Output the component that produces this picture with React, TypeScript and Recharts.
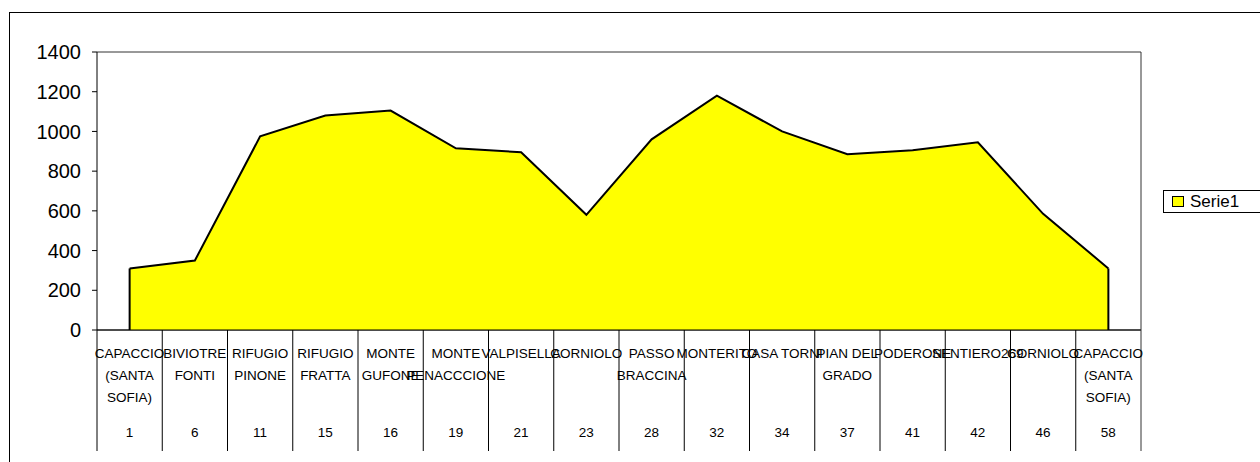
import React from "react";
import {
  AreaChart,
  Area,
  XAxis,
  YAxis,
  CartesianGrid,
  Legend,
  ReferenceLine,
} from "recharts";

// ---- data ----
const stops: string[] = [
  "CAPACCIO (SANTA SOFIA)",
  "BIVIOTRE FONTI",
  "RIFUGIO PINONE",
  "RIFUGIO FRATTA",
  "MONTE GUFONE",
  "MONTE PENACCCIONE",
  "VALPISELLA",
  "CORNIOLO",
  "PASSO BRACCINA",
  "MONTERITO",
  "CASA TORNI",
  "PIAN DEL GRADO",
  "PODERONE",
  "SENTIERO269",
  "CORNIOLO",
  "CAPACCIO (SANTA SOFIA)",
];
const km: number[] = [1, 6, 11, 15, 16, 19, 21, 23, 28, 32, 34, 37, 41, 42, 46, 58];
const elevation: number[] = [310, 350, 975, 1080, 1105, 915, 895, 580, 960, 1180, 1000, 885, 905, 945, 585, 310];
const yTicks: number[] = [0, 200, 400, 600, 800, 1000, 1200, 1400];
const seriesName = "Serie1";

const data = km.map((k, i) => ({ km: k, name: stops[i], value: elevation[i] }));

// ---- layout ----
const W = 1260;
const H = 462;
const PLOT_LEFT = 97;
const PLOT_RIGHT = 1141;
const PLOT_TOP = 52;
const PLOT_BOTTOM = 330;
const N = km.length;
const BAND = (PLOT_RIGHT - PLOT_LEFT) / N;
const FONT = '"Liberation Sans", Arial, sans-serif';
const CAT_FONT_SIZE = 13.5;

function wrapLabel(label: string, maxWidth: number): string[] {
  let measure = (s: string) => s.length * CAT_FONT_SIZE * 0.6;
  try {
    const c = document.createElement("canvas").getContext("2d");
    if (c) {
      c.font = `${CAT_FONT_SIZE}px ${FONT}`;
      measure = (s: string) => c.measureText(s).width;
    }
  } catch (e) {}
  const words = label.split(" ");
  const lines: string[] = [];
  let cur = "";
  for (const w of words) {
    const cand = cur ? cur + " " + w : w;
    if (cur && measure(cand) > maxWidth) {
      lines.push(cur);
      cur = w;
    } else {
      cur = cand;
    }
  }
  if (cur) lines.push(cur);
  return lines;
}

const wrapped = stops.map((s) => wrapLabel(s, 90));

const XTick = (props: any) => {
  const { x, y, payload } = props;
  const i: number = payload.index;
  const half = BAND / 2;
  const lines = wrapped[i] || [];
  return (
    <g>
      <line x1={x - half} x2={x - half} y1={y} y2={y + 121} stroke="#000" strokeWidth={1} />
      {i === N - 1 && (
        <line x1={x + half} x2={x + half} y1={y} y2={y + 121} stroke="#333" strokeWidth={1} />
      )}
      <text x={x} y={y + 27.8} textAnchor="middle" fontSize={CAT_FONT_SIZE} fontFamily={FONT} fill="#000">
        {lines.map((l, k) => (
          <tspan key={k} x={x} dy={k === 0 ? 0 : 22}>
            {l}
          </tspan>
        ))}
      </text>
      <text x={x} y={y + 106.7} textAnchor="middle" fontSize={CAT_FONT_SIZE} fontFamily={FONT} fill="#000">
        {payload.value}
      </text>
    </g>
  );
};

const LegendBox = (props: any) => {
  const p = (props.payload && props.payload[0]) || { value: seriesName };
  return (
    <div
      style={{
        boxSizing: "border-box",
        width: 99,
        height: 23,
        border: "1px solid #000",
        background: "#fff",
        position: "relative",
        fontFamily: FONT,
      }}
    >
      <div
        style={{
          position: "absolute",
          left: 8,
          top: 5,
          width: 12,
          height: 11,
          background: "#FFFF00",
          border: "1px solid #000",
          boxSizing: "border-box",
        }}
      />
      <span
        style={{
          position: "absolute",
          left: 26,
          top: 1,
          fontSize: 17,
          lineHeight: "20px",
          color: "#000",
          whiteSpace: "nowrap",
        }}
      >
        {p.value}
      </span>
    </div>
  );
};

export default function App() {
  return (
    <div
      style={{
        position: "absolute",
        left: 0,
        top: 0,
        width: W,
        height: H,
        overflow: "hidden",
        background: "#fff",
      }}
    >
      <div
        style={{
          position: "absolute",
          left: 9,
          top: 12,
          width: W + 20,
          height: H + 20,
          border: "1px solid #000",
          boxSizing: "border-box",
        }}
      />
      <div style={{ position: "absolute", left: 0, top: 0 }}>
        <AreaChart
          width={W}
          height={H}
          data={data}
          margin={{ top: PLOT_TOP, right: 0, bottom: 0, left: 0 }}
        >
          <CartesianGrid vertical={false} horizontal={true} stroke="#333" strokeWidth={1} />
          <XAxis
            dataKey="km"
            type="category"
            interval={0}
            height={H - PLOT_BOTTOM}
            padding={{ left: BAND / 2, right: BAND / 2 }}
            tickLine={false}
            tickSize={0}
            tickMargin={0}
            axisLine={{ stroke: "#000", strokeWidth: 1 }}
            tick={<XTick />}
          />
          <YAxis
            yAxisId="left"
            domain={[0, 1400]}
            ticks={yTicks}
            width={PLOT_LEFT}
            tickSize={5}
            tickMargin={11}
            axisLine={{ stroke: "#000", strokeWidth: 1 }}
            tickLine={{ stroke: "#000", strokeWidth: 1 }}
            tick={{ fill: "#000", fontSize: 20, fontFamily: FONT }}
            interval={0}
          />
          <YAxis
            yAxisId="right"
            orientation="right"
            domain={[0, 1400]}
            ticks={yTicks}
            width={W - PLOT_RIGHT}
            tick={false}
            tickLine={false}
            axisLine={{ stroke: "#333", strokeWidth: 1 }}
          />
          <Area
            yAxisId="left"
            type="linear"
            dataKey="value"
            name={seriesName}
            fill="#FFFF00"
            fillOpacity={1}
            stroke="#000"
            strokeWidth={2}
            dot={false}
            activeDot={false}
            isAnimationActive={false}
          />
          <ReferenceLine
            yAxisId="left"
            segment={[
              { x: km[0], y: 0 },
              { x: km[0], y: elevation[0] },
            ]}
            stroke="#000"
            strokeWidth={2}
            ifOverflow="visible"
          />
          <ReferenceLine
            yAxisId="left"
            segment={[
              { x: km[N - 1], y: 0 },
              { x: km[N - 1], y: elevation[N - 1] },
            ]}
            stroke="#000"
            strokeWidth={2}
            ifOverflow="visible"
          />
          <Legend
            layout="vertical"
            align="center"
            verticalAlign="middle"
            content={<LegendBox />}
            wrapperStyle={{ left: 1163, top: 190, width: 99, height: 23 }}
          />
        </AreaChart>
      </div>
    </div>
  );
}
